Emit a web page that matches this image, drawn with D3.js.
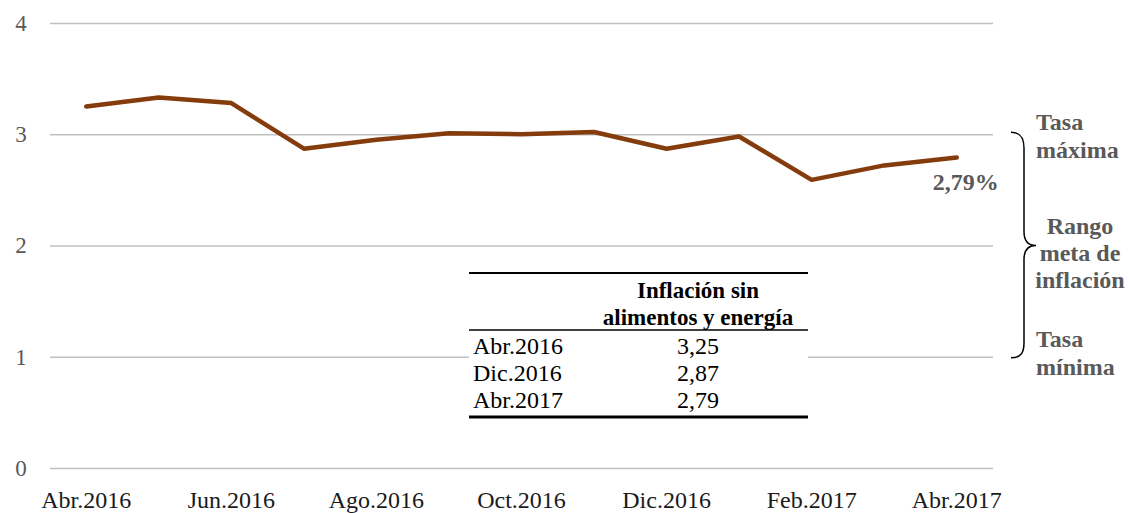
<!DOCTYPE html>
<html>
<head>
<meta charset="utf-8">
<script src="https://cdn.jsdelivr.net/npm/d3@7"></script>
<style>
  body { margin: 0; background: #fff; }
  svg { font-family: "Liberation Serif", "DejaVu Serif", serif; }
</style>
</head>
<body>
<svg width="1129" height="513"></svg>
<script>
// data
const months = ["Abr.2016", "May.2016", "Jun.2016", "Jul.2016", "Ago.2016", "Sep.2016", "Oct.2016",
                "Nov.2016", "Dic.2016", "Ene.2017", "Feb.2017", "Mar.2017", "Abr.2017"];
const values = [3.25, 3.33, 3.28, 2.87, 2.95, 3.01, 3.00, 3.02, 2.87, 2.98, 2.59, 2.72, 2.79];
const xTickLabels = ["Abr.2016", "Jun.2016", "Ago.2016", "Oct.2016", "Dic.2016", "Feb.2017", "Abr.2017"];
const yTicks = [0, 1, 2, 3, 4];
const tableHeader = ["Inflación sin", "alimentos y energía"];
const tableRows = [["Abr.2016", "3,25"], ["Dic.2016", "2,87"], ["Abr.2017", "2,79"]];
const lastLabel = "2,79%";
const bandTop = 3, bandMid = 2, bandBottom = 1;

const svg = d3.select("svg");
const mLeft = 50, mRight = 993, mTop = 23, mBottom = 468;

const x = d3.scaleBand().domain(months).range([mLeft, mRight]);
const cx = m => x(m) + x.bandwidth() / 2;
const y = d3.scaleLinear().domain([0, 4]).range([mBottom, mTop]);

// gridlines + y labels
const yAxis = svg.append("g")
  .attr("transform", `translate(${mLeft},0)`)
  .call(d3.axisLeft(y).tickValues(yTicks).tickSize(-(mRight - mLeft)).tickFormat(d3.format("d")))
  .attr("font-family", null).attr("font-size", null);
yAxis.select(".domain").remove();
yAxis.selectAll(".tick line").attr("stroke", "#bfbfbf").attr("stroke-width", 1.3);
yAxis.selectAll(".tick text")
  .attr("x", -29).attr("text-anchor", "middle")
  .attr("fill", "#595959").style("font-size", "23px");

// x labels
const xAxis = svg.append("g")
  .attr("transform", `translate(0,${mBottom})`)
  .call(d3.axisBottom(x).tickValues(xTickLabels).tickSize(0))
  .attr("font-family", null).attr("font-size", null);
xAxis.select(".domain").remove();
xAxis.selectAll(".tick text")
  .attr("y", 40).attr("dy", 0)
  .attr("fill", "#1a1a1a").style("font-size", "24px");

// series
const line = d3.line().x((d, i) => cx(months[i])).y(d => y(d));
svg.append("path")
  .datum(values)
  .attr("d", line)
  .attr("fill", "none")
  .attr("stroke", "#843c0c")
  .attr("stroke-width", 4.5)
  .attr("stroke-linejoin", "round")
  .attr("stroke-linecap", "round");

// end label
const lastM = months[months.length - 1];
svg.append("text")
  .attr("x", cx(lastM) + 9)
  .attr("y", y(values[values.length - 1]) + 32)
  .attr("text-anchor", "middle")
  .attr("fill", "#595959")
  .style("font-size", "24px").style("font-weight", "bold")
  .text(lastLabel);

// brace for target range
const yt = y(bandTop), ym = y(bandMid), yb = y(bandBottom);
const bx = 1011;
svg.append("path")
  .attr("d", `M${bx},${yt - 2} C${bx + 10},${yt - 2} ${bx + 13},${yt + 4} ${bx + 13},${yt + 14}
              L${bx + 13},${ym - 14} C${bx + 13},${ym - 4} ${bx + 18},${ym} ${bx + 25},${ym}
              C${bx + 18},${ym} ${bx + 13},${ym + 4} ${bx + 13},${ym + 14}
              L${bx + 13},${yb - 14} C${bx + 13},${yb - 4} ${bx + 10},${yb + 1} ${bx},${yb + 1}`)
  .attr("fill", "none").attr("stroke", "#000").attr("stroke-width", 1.5);

const side = svg.append("g").attr("fill", "#595959")
  .style("font-size", "24px").style("font-weight", "bold");
side.append("text").attr("x", 1036).attr("y", yt - 4).text("Tasa");
side.append("text").attr("x", 1036).attr("y", yt + 24).text("máxima");
side.append("text").attr("x", 1080).attr("y", ym - 12).attr("text-anchor", "middle").text("Rango");
side.append("text").attr("x", 1080).attr("y", ym + 15).attr("text-anchor", "middle").text("meta de");
side.append("text").attr("x", 1080).attr("y", ym + 42).attr("text-anchor", "middle").text("inflación");
side.append("text").attr("x", 1036).attr("y", yb - 10).text("Tasa");
side.append("text").attr("x", 1036).attr("y", yb + 18).text("mínima");

// inset table
const tx0 = 469, tx1 = 808, ty0 = 273, rowH = 27;
const tbl = svg.append("g").style("font-size", "24px").attr("fill", "#000");
tbl.append("rect").attr("x", tx0).attr("y", ty0).attr("width", tx1 - tx0).attr("height", 145).attr("fill", "#fff");
tbl.append("line").attr("x1", tx0).attr("x2", tx1).attr("y1", ty0).attr("y2", ty0)
  .attr("stroke", "#000").attr("stroke-width", 2);
const colX = 698;
tbl.selectAll("text.h").data(tableHeader).join("text")
  .attr("class", "h")
  .attr("x", colX).attr("y", (d, i) => ty0 + 25 + i * rowH)
  .attr("text-anchor", "middle").style("font-weight", "bold").style("font-size", "23px")
  .text(d => d);
const hy = ty0 + 57;
tbl.append("line").attr("x1", tx0).attr("x2", tx1).attr("y1", hy).attr("y2", hy)
  .attr("stroke", "#000").attr("stroke-width", 1.6);
const rows = tbl.selectAll("g.row").data(tableRows).join("g")
  .attr("class", "row")
  .attr("transform", (d, i) => `translate(0,${hy + 24 + i * rowH})`);
rows.append("text").attr("x", tx0 + 4).text(d => d[0]);
rows.append("text").attr("x", colX).attr("text-anchor", "middle").text(d => d[1]);
const by = hy + 87;
tbl.append("line").attr("x1", tx0).attr("x2", tx1).attr("y1", by).attr("y2", by)
  .attr("stroke", "#000").attr("stroke-width", 3);
</script>
</body>
</html>
